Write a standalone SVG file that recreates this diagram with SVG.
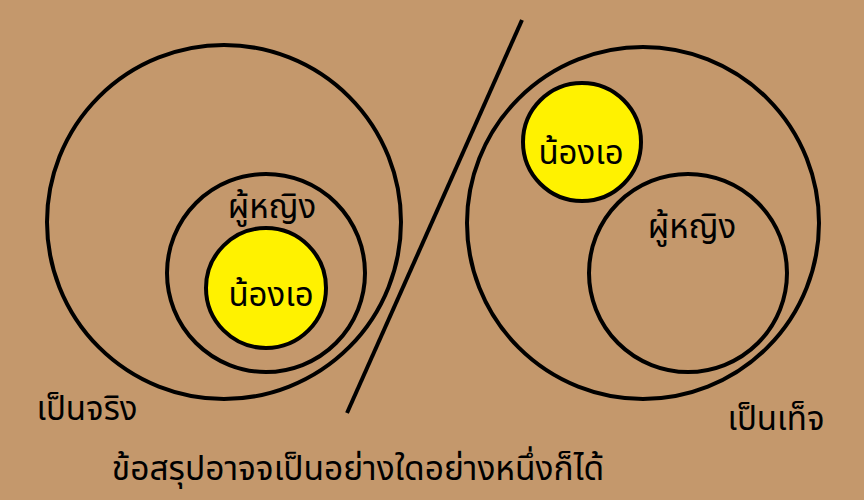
<svg xmlns="http://www.w3.org/2000/svg" width="864" height="500" viewBox="0 0 864 500">
<style>
.c{fill:none;stroke:#000;stroke-width:4}
.y{fill:#fff200;stroke:#000;stroke-width:4}
text{font-family:"Noto Sans Thai","Noto Sans","DejaVu Sans",sans-serif;fill:#000;text-anchor:middle}
.m{font-size:33px}
.b{font-size:33.5px}
</style>
<rect width="864" height="500" fill="#c4986c"/>
<g id="connectors">
<line x1="522" y1="20" x2="347" y2="413" stroke="#000" stroke-width="4"/>
</g>
<g id="true-outer"><circle class="c" cx="224" cy="222" r="177"/></g>
<g id="true-women"><circle class="c" cx="266" cy="273" r="99"/><text class="m" x="272" y="218">ผู้หญิง</text></g>
<g id="true-a"><circle class="y" cx="266" cy="288" r="60"/><text class="m" x="271" y="306">น้องเอ</text></g>
<g id="false-outer"><circle class="c" cx="643" cy="223" r="176"/></g>
<g id="false-women"><circle class="c" cx="688" cy="273" r="99"/><text class="m" x="692" y="238">ผู้หญิง</text></g>
<g id="false-a"><circle class="y" cx="582" cy="142" r="59"/><text class="m" x="581" y="164">น้องเอ</text></g>
<g id="labels">
<text class="m" x="87" y="420">เป็นจริง</text>
<text class="m" x="776" y="430">เป็นเท็จ</text>
<text class="b" x="358" y="480">ข้อสรุปอาจจเป็นอย่างใดอย่างหนึ่งก็ได้</text>
</g>
</svg>
